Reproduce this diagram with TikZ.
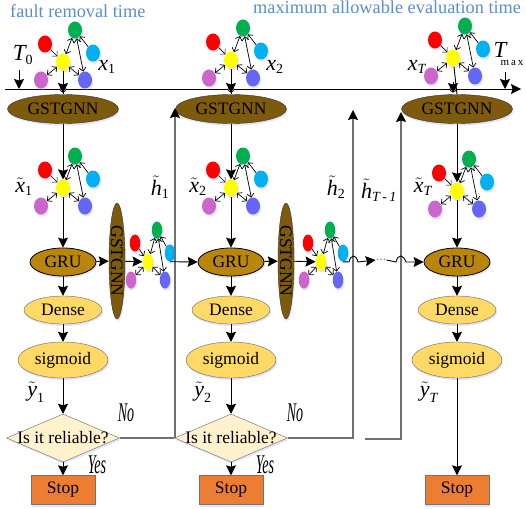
\documentclass[tikz,border=0pt]{standalone}
\usepackage{fontspec}
\setmainfont{Liberation Serif}
\usetikzlibrary{shapes.geometric,arrows.meta,shadows}
\definecolor{gstbrown}{HTML}{7D5A0C}
\definecolor{grugold}{HTML}{B8860B}
\definecolor{densey}{HTML}{FFD966}
\definecolor{diamy}{HTML}{FFF2CC}
\definecolor{stopo}{HTML}{ED7D31}
\definecolor{headblue}{HTML}{5B8EC8}
\definecolor{nred}{HTML}{FF0000}
\definecolor{ngreen}{HTML}{00B050}
\definecolor{nblue}{HTML}{00B0F0}
\definecolor{nyellow}{HTML}{FFFF00}
\definecolor{npurple}{HTML}{CC66CC}
\definecolor{nindigo}{HTML}{6666F5}
\definecolor{loopgray}{HTML}{707070}
\newcommand{\vr}[1]{\mbox{\itshape #1}}
\newcommand{\tl}[1]{\tilde{\mbox{\itshape #1}}}
\newcommand{\sbx}[1]{_{\mbox{\fontsize{14}{14}\selectfont #1}}}
\newcommand{\narrow}[1]{\scalebox{0.52}[1]{\fontsize{27}{27}\selectfont\itshape #1}}
\tikzset{
  glow/.style={drop shadow={shadow xshift=1pt,shadow yshift=-2pt,fill=blue!45,opacity=.25}},
  txt/.style={font=\fontsize{17.5}{20}\selectfont,text=black},
  gst/.style={ellipse,draw=black!80,fill=gstbrown,minimum width=111pt,minimum height=29pt,inner sep=0pt,txt,glow},
  gstv/.style={ellipse,draw=black!80,fill=gstbrown,minimum width=116pt,minimum height=16pt,inner sep=0pt,rotate=-90,txt,glow},
  gru/.style={ellipse,draw=black,fill=grugold,line width=.8pt,minimum width=66pt,minimum height=28pt,inner sep=0pt,txt,glow},
  dense/.style={ellipse,draw=black!60,fill=densey,minimum width=78pt,minimum height=28pt,inner sep=0pt,txt,glow},
  sigm/.style={ellipse,draw=black!60,fill=densey,minimum width=90pt,minimum height=36pt,inner sep=0pt,txt,glow},
  decide/.style={diamond,draw=black!60,fill=diamy,minimum width=113pt,minimum height=48pt,inner sep=0pt,txt,glow},
  stopbox/.style={rectangle,draw=black!55,fill=stopo,minimum width=64pt,minimum height=29pt,inner sep=0pt,txt,glow},
  dot/.style={ellipse,inner sep=0pt,minimum width=14pt,minimum height=17pt,glow},
  sdot/.style={ellipse,inner sep=0pt,minimum width=10.5pt,minimum height=17pt,glow},
  conn/.style={draw=black,line width=.9pt,-{Stealth[length=10pt,width=10pt,inset=1.5pt]}},
  plain/.style={draw=black,line width=.9pt},
  back/.style={draw=loopgray,line width=1.2pt},
  backarrow/.style={back,-{Stealth[length=10pt,width=10pt,inset=1.5pt,black]}},
  one/.style={draw=black,line width=.7pt,-{Straight Barb[length=3.5pt,width=7pt]}},
  two/.style={draw=black,line width=.7pt,{Straight Barb[length=3.5pt,width=7pt]}-{Straight Barb[length=3.5pt,width=7pt]}},
  lab/.style={font=\fontsize{22}{24}\selectfont,inner sep=0pt},
  head/.style={font=\fontsize{18.3}{20}\selectfont,text=headblue,inner sep=0pt}
}
\newcommand{\netedges}[1]{
  \draw[one] (#1r) -- (#1y);
  \draw[two] (#1y) -- (#1g);
  \draw[two] (#1y) -- (#1p);
  \draw[two] (#1y) -- (#1i);
  \draw[one] (#1b) -- (#1g);
  \draw[two] (#1g) -- (#1i);
}
\newcommand{\bignet}[3]{
  \begin{scope}[shift={(#2,#3)}]
  \node[dot,fill=nred] (#1r) at (-18,-18) {};
  \node[dot,fill=ngreen] (#1g) at (12,-32) {};
  \node[dot,fill=nblue] (#1b) at (30,-9) {};
  \node[dot,fill=npurple] (#1p) at (-22,18) {};
  \node[dot,fill=nindigo] (#1i) at (22,18) {};
  \node[dot,fill=nyellow] (#1y) at (0,0) {};
  \end{scope}
  \netedges{#1}
}
\newcommand{\smallnet}[3]{
  \begin{scope}[shift={(#2,#3)}]
  \node[sdot,fill=nred] (#1r) at (-13,-19) {};
  \node[sdot,fill=ngreen] (#1g) at (9,-32) {};
  \node[sdot,fill=nblue] (#1b) at (22,-9) {};
  \node[sdot,fill=npurple] (#1p) at (-17,18) {};
  \node[sdot,fill=nindigo] (#1i) at (17,18) {};
  \node[sdot,fill=nyellow] (#1y) at (0,0) {};
  \end{scope}
  \netedges{#1}
}
\newcommand{\colbody}[2]{% id, x
  \node[gst] (#1gst) at (#2,109) {GSTGNN};
  \node[gru] (#1gru) at (#2,262) {GRU};
  \node[dense] (#1den) at (#2,310) {Dense};
  \node[sigm] (#1sig) at (#2,360) {sigmoid};
  \node[stopbox] (#1stop) at (#2,490) {Stop};
}
\begin{document}
\begin{tikzpicture}[x=1pt,y=-1pt]
\useasboundingbox (0,0) rectangle (526,508);

% headings
\node[head,anchor=base west] (h1) at (10,18) {fault removal time};
\node[head,anchor=base west] (h2) at (253,14) {maximum allowable evaluation time};

% time axis
\coordinate (axL) at (5,89);
\coordinate (axR) at (521,89);
\draw[conn] (axL) -- (axR);
\coordinate (t0a) at (19,70); \coordinate (t0b) at (19,89);
\coordinate (tma) at (505,72); \coordinate (tmb) at (505,89);
\draw[conn] (t0a) -- (t0b);
\draw[conn] (tma) -- (tmb);
\node[lab,font=\fontsize{23}{24}\selectfont] (T0) at (23,55) {$\vr{T}\sbx{0}$};
\node[lab,font=\fontsize{23}{24}\selectfont] (Tm) at (500,50) {\vr{T}};
\node[inner sep=0pt,font=\fontsize{11}{11}\selectfont] (Tms) at (512,63) {m\,a\,x};

% columns
\colbody{a}{63}
\colbody{b}{231}
\colbody{c}{457}

% nets
\bignet{ta}{63}{62}
\bignet{tb}{231}{60}
\bignet{tc}{453}{58}
\bignet{ma}{63}{188}
\bignet{mb}{231}{188}
\bignet{mc}{457}{191}

% vertical GSTGNN + small nets
\node[gstv] (va) at (117,261) {\smash{\raisebox{-.33em}{GSTGNN}}};
\node[gstv] (vb) at (286,261) {\smash{\raisebox{-.33em}{GSTGNN}}};
\smallnet{sa}{148}{262}
\smallnet{sb}{321}{262}

% decisions
\node[decide] (ad) at (63,438) {\makebox[0pt]{\smash{\raisebox{-.33em}{Is it reliable?}}}};
\node[decide] (bd) at (231,438) {\makebox[0pt]{\smash{\raisebox{-.33em}{Is it reliable?}}}};

% main flow
\foreach \c in {a,b,c}{
  \draw[plain] (t\c y) -- (\c gst.north);
  \node[circle,draw=black,line width=.6pt,fill=white,minimum size=6pt,inner sep=0pt] at (t\c y |- axL) {};
  \draw[conn] (t\c y |- 0,82) -- (t\c y |- 0,93);
  \draw[conn] (\c gst.south) -- (m\c y.north);
  \draw[conn] (m\c y) -- (\c gru);
  \draw[conn] (\c gru) -- (\c den);
  \draw[conn] (\c den) -- (\c sig);
}
\draw[conn] (asig) -- (ad);
\draw[conn] (bsig) -- (bd);
\draw[conn] (ad) -- (astop);
\draw[conn] (bd) -- (bstop);
\draw[conn] (csig) -- (cstop);

% feedback lines
\coordinate (l1) at (175,438); \coordinate (l1t) at (175,108);
\coordinate (l2) at (353,438); \coordinate (l2t) at (353,110);
\coordinate (l3a) at (365,439); \coordinate (l3) at (401,439); \coordinate (l3t) at (401,112);
\draw[back] (ad.east) -- (bd.west);
\draw[backarrow] (l1) -- (l1t);
\draw[backarrow] (bd.east) -- (l2) -- (l2t);
\draw[backarrow] (l3a) -- (l3) -- (l3t);

% horizontal flow
\draw[conn] (agru) -- (va);
\draw[conn] (va) -- (say);
\draw[conn] (bgru) -- (vb);
\draw[conn] (vb) -- (sby);
\draw[conn] (sab.south) -- (bgru.west);
\node[inner sep=0pt,text=headblue,font=\fontsize{14}{14}\selectfont] (dots) at (381,260) {...};
\draw[conn] (sbb.south) -- (349,262) .. controls (351,254) and (356,254) .. (358,262) -- (dots.west);
\draw[conn] (dots.east) -- (396,262) .. controls (398,254) and (403,254) .. (406,262) -- (cgru.west);

% labels
\node[lab] (xa) at (107,67) {$\vr{x}\sbx{1}$};
\node[lab] (xb) at (275,67) {$\vr{x}\sbx{2}$};
\node[lab] (xc) at (417,67) {$\vr{x}\sbx{\itshape T}$};
\node[lab] (xta) at (24,187) {$\tl{x}\sbx{1}$};
\node[lab] (xtb) at (198,187) {$\tl{x}\sbx{2}$};
\node[lab] (xtc) at (423,187) {$\tl{x}\sbx{\itshape T}$};
\node[lab] (hta) at (160,187) {$\tl{h}\sbx{1}$};
\node[lab] (htb) at (336,187) {$\tl{h}\sbx{2}$};
\node[lab] (htc) at (379,190) {$\tl{h}\sbx{\itshape T\,-\,1}$};
\node[lab] (yta) at (36,392) {$\tl{y}\sbx{1}$};
\node[lab] (ytb) at (203,392) {$\tl{y}\sbx{2}$};
\node[lab] (ytc) at (429,392) {$\tl{y}\sbx{\itshape T}$};
\node[inner sep=0pt] (noa) at (126,413) {\narrow{No}};
\node[inner sep=0pt] (nob) at (295,413) {\narrow{No}};
\node[inner sep=0pt] (yea) at (97,465) {\narrow{Yes}};
\node[inner sep=0pt] (yeb) at (265,465) {\narrow{Yes}};
\end{tikzpicture}
\end{document}
